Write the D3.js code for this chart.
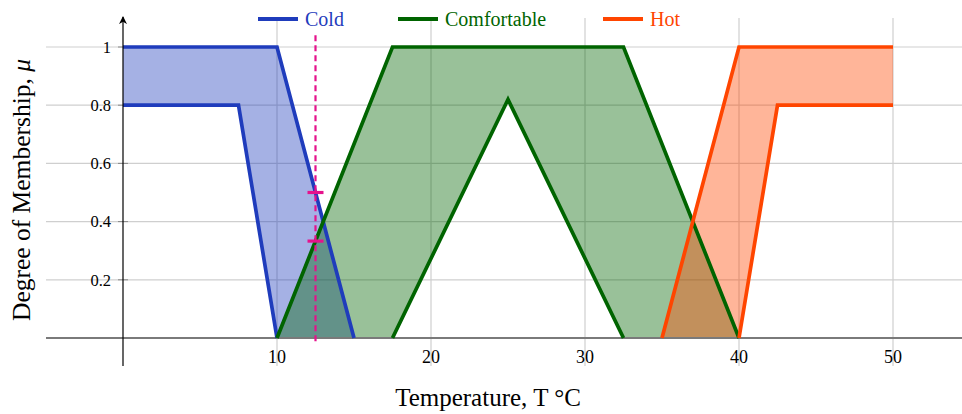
<!DOCTYPE html>
<html>
<head>
<meta charset="utf-8">
<script src="https://cdn.jsdelivr.net/npm/d3@7"></script>
<style>
  body { margin: 0; background: #fff; }
  svg text { font-family: "Liberation Serif", "DejaVu Serif", serif; }
</style>
</head>
<body>
<div id="chart"></div>
<script>
// membership functions (temperature, mu)
var coldUpper = [[0, 1], [10, 1], [15, 0]];
var coldLower = [[0, 0.8], [7.5, 0.8], [10, 0]];
var comfUpper = [[10, 0], [17.5, 1], [32.5, 1], [40, 0]];
var comfLower = [[17.5, 0], [25, 0.82], [32.5, 0]];
var hotUpper = [[35, 0], [40, 1], [50, 1]];
var hotLower = [[40, 0], [42.5, 0.8], [50, 0.8]];

var setNames = ["Cold", "Comfortable", "Hot"];
var setColors = ["#1f3cbc", "#006400", "#ff4500"];

var xTicks = [10, 20, 30, 40, 50];
var yTicks = [0.2, 0.4, 0.6, 0.8, 1];

// input temperature and its firing strengths
var inputT = 12.5;
var inputMarks = [0.5, 0.333];
var inputSpan = [-0.015, 1.04];

var width = 962, height = 414;

var x = d3.scaleLinear().domain([0, 50]).range([123, 893]);
var y = d3.scaleLinear().domain([0, 1]).range([338, 47]);

var svg = d3.select("#chart").append("svg")
    .attr("width", width)
    .attr("height", height);

var xMin = -5, xMax = x.invert(width);
var yBottom = -0.096, yTop = 1.1;

// grid
svg.append("g").selectAll("line")
    .data(yTicks)
    .enter().append("line")
    .attr("x1", x(xMin)).attr("x2", x(xMax))
    .attr("y1", function (d) { return y(d); })
    .attr("y2", function (d) { return y(d); })
    .style("stroke", "#cfcfcf").style("stroke-width", 1.2);

svg.append("g").selectAll("line")
    .data(xTicks)
    .enter().append("line")
    .attr("x1", function (d) { return x(d); })
    .attr("x2", function (d) { return x(d); })
    .attr("y1", y(yTop)).attr("y2", y(yBottom))
    .style("stroke", "#cfcfcf").style("stroke-width", 1.2);

// tick labels
svg.append("g").selectAll("text")
    .data(xTicks)
    .enter().append("text")
    .attr("x", function (d) { return x(d); })
    .attr("y", 363)
    .attr("text-anchor", "middle")
    .style("font-size", "18px")
    .text(function (d) { return d; });

svg.append("g").selectAll("text")
    .data(yTicks)
    .enter().append("text")
    .attr("x", 111)
    .attr("y", function (d) { return y(d); })
    .attr("dy", "0.35em")
    .attr("text-anchor", "end")
    .style("font-size", "16.5px")
    .text(function (d) { return d; });

// y ticks
svg.append("g").selectAll("line")
    .data(yTicks)
    .enter().append("line")
    .attr("x1", x(0) - 5).attr("x2", x(0) + 5)
    .attr("y1", function (d) { return y(d); })
    .attr("y2", function (d) { return y(d); })
    .style("stroke", "#888").style("stroke-width", 1);

var line = d3.line()
    .x(function (d) { return x(d[0]); })
    .y(function (d) { return y(d[1]); });

var sets = [
    { upper: coldUpper, lower: coldLower },
    { upper: comfUpper, lower: comfLower },
    { upper: hotUpper, lower: hotLower }
];

// footprints of uncertainty
sets.forEach(function (s, i) {
    svg.append("path")
        .datum(s.upper.concat(s.lower.slice().reverse()))
        .attr("d", function (d) { return line(d) + "Z"; })
        .style("fill", setColors[i])
        .style("fill-opacity", 0.4)
        .style("stroke", "none");
});

// x axis
svg.append("line")
    .attr("x1", x(xMin)).attr("x2", x(xMax))
    .attr("y1", y(0)).attr("y2", y(0))
    .style("stroke", "#7a7a7a").style("stroke-width", 2);

// membership lines
sets.forEach(function (s, i) {
    [s.upper, s.lower].forEach(function (pts) {
        svg.append("path")
            .datum(pts)
            .attr("d", line)
            .style("fill", "none")
            .style("stroke", setColors[i])
            .style("stroke-width", 3.7)
            .style("stroke-linejoin", "miter");
    });
});

// y axis with arrow
svg.append("defs").append("marker")
    .attr("id", "arrow")
    .attr("viewBox", "0 0 10 10")
    .attr("refX", 9).attr("refY", 5)
    .attr("markerWidth", 8).attr("markerHeight", 8)
    .attr("markerUnits", "userSpaceOnUse")
    .attr("orient", "auto")
    .append("path")
    .attr("d", "M0,0 L10,5 L0,10 L3,5 Z")
    .style("fill", "#000");

svg.append("line")
    .attr("x1", x(0)).attr("x2", x(0))
    .attr("y1", y(yBottom)).attr("y2", y(yTop) - 1)
    .style("stroke", "#000").style("stroke-width", 1.2)
    .attr("marker-end", "url(#arrow)");

// input temperature
svg.append("line")
    .attr("x1", x(inputT)).attr("x2", x(inputT))
    .attr("y1", y(inputSpan[1])).attr("y2", y(inputSpan[0]))
    .style("stroke", "#e5128c").style("stroke-width", 2.2)
    .style("stroke-dasharray", "6,4");

svg.append("g").selectAll("line")
    .data(inputMarks)
    .enter().append("line")
    .attr("x1", x(inputT) - 8).attr("x2", x(inputT) + 8)
    .attr("y1", function (d) { return y(d); })
    .attr("y2", function (d) { return y(d); })
    .style("stroke", "#e5128c").style("stroke-width", 3.2);

// legend
var legendX = [258, 398, 603];
var legend = svg.append("g").selectAll("g")
    .data(setNames)
    .enter().append("g")
    .attr("transform", function (d, i) { return "translate(" + legendX[i] + ",19)"; });

legend.append("line")
    .attr("x1", 0).attr("x2", 40)
    .style("stroke", function (d, i) { return setColors[i]; })
    .style("stroke-width", 4);

legend.append("text")
    .attr("x", 47)
    .attr("dy", "0.33em")
    .style("font-size", "20px")
    .style("fill", function (d, i) { return setColors[i]; })
    .text(function (d) { return d; });

// axis titles
svg.append("text")
    .attr("x", 488)
    .attr("y", 406)
    .attr("text-anchor", "middle")
    .style("font-size", "25px")
    .text("Temperature, T °C");

svg.append("text")
    .attr("transform", "translate(30,190) rotate(-90)")
    .attr("text-anchor", "middle")
    .style("font-size", "25.5px")
    .html("Degree of Membership, <tspan font-style='italic'>μ</tspan>");
</script>
</body>
</html>
